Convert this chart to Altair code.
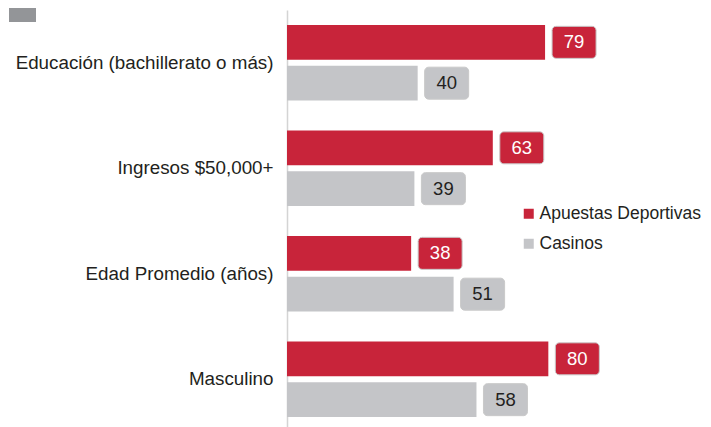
import altair as alt
import pandas as pd

categories = ["Educación (bachillerato o más)", "Ingresos $50,000+", "Edad Promedio (años)", "Masculino"]
apuestas = [79, 63, 38, 80]
casinos = [40, 39, 51, 58]
series = ["Apuestas Deportivas", "Casinos"]
colors = ["#c8243a", "#c4c5c8"]
text_colors = ["#ffffff", "#231f20"]

rows = []
for c, a, s in zip(categories, apuestas, casinos):
    rows.append({"cat": c, "serie": series[0], "val": a, "tc": text_colors[0]})
    rows.append({"cat": c, "serie": series[1], "val": s, "tc": text_colors[1]})
df = pd.DataFrame(rows)

FONT = "Liberation Sans"
FS = 18.5

y_enc = alt.Y("cat:N", sort=categories, title=None,
              scale=alt.Scale(paddingInner=0.284, paddingOuter=0.142),
              axis=alt.Axis(labelFontSize=18.8, labelFont=FONT, labelColor="#231f20",
                            labelPadding=14, ticks=False, domainColor="#d4d4d4",
                            domainWidth=1.5, labelLimit=400))
yoff = alt.YOffset("serie:N", sort=series, scale=alt.Scale(paddingInner=0.15, paddingOuter=0))
x_enc = alt.X("val:Q", scale=alt.Scale(domain=[0, 120]), axis=None, title=None)
color_enc = alt.Color("serie:N", sort=series,
                      scale=alt.Scale(domain=series, range=colors),
                      legend=alt.Legend(title=None, orient="none", legendX=233, legendY=195,
                                        symbolType="square", symbolSize=100, symbolStrokeWidth=0,
                                        labelFontSize=17.5, labelFont=FONT, labelColor="#231f20",
                                        rowPadding=11, labelOffset=2, labelLimit=300))

bars = alt.Chart(df).mark_bar(opacity=1).encode(y=y_enc, yOffset=yoff, x=x_enc, color=color_enc)

boxes = alt.Chart(df).mark_rect(width=44, height=32, cornerRadius=4, xOffset=29,
                                stroke="#c9c9c9", strokeWidth=1).encode(
    y=alt.Y("cat:N", sort=categories), yOffset=yoff, x=x_enc,
    color=alt.Color("serie:N", sort=series, scale=alt.Scale(domain=series, range=colors), legend=None))

labels = alt.Chart(df).mark_text(fontSize=FS, font=FONT, align="center", baseline="middle", dx=29).encode(
    y=alt.Y("cat:N", sort=categories), yOffset=yoff, x=x_enc,
    text=alt.Text("val:Q"),
    color=alt.Color("tc:N", scale=None))

square = alt.Chart(pd.DataFrame({"k": [0]})).mark_rect(color="#939598").encode(
    x=alt.value(-278), x2=alt.value(-251), y=alt.value(-10), y2=alt.value(12))

chart = alt.layer(bars, boxes, labels, square).properties(
    width=392, height=422,
    autosize=alt.AutoSizeParams(type="none"),
    padding={"left": 279, "top": 2, "right": 24, "bottom": 0}
).configure(background="#ffffff").configure_view(stroke=None)

chart.save("out.html", embed_options={"renderer": "svg", "actions": False})
